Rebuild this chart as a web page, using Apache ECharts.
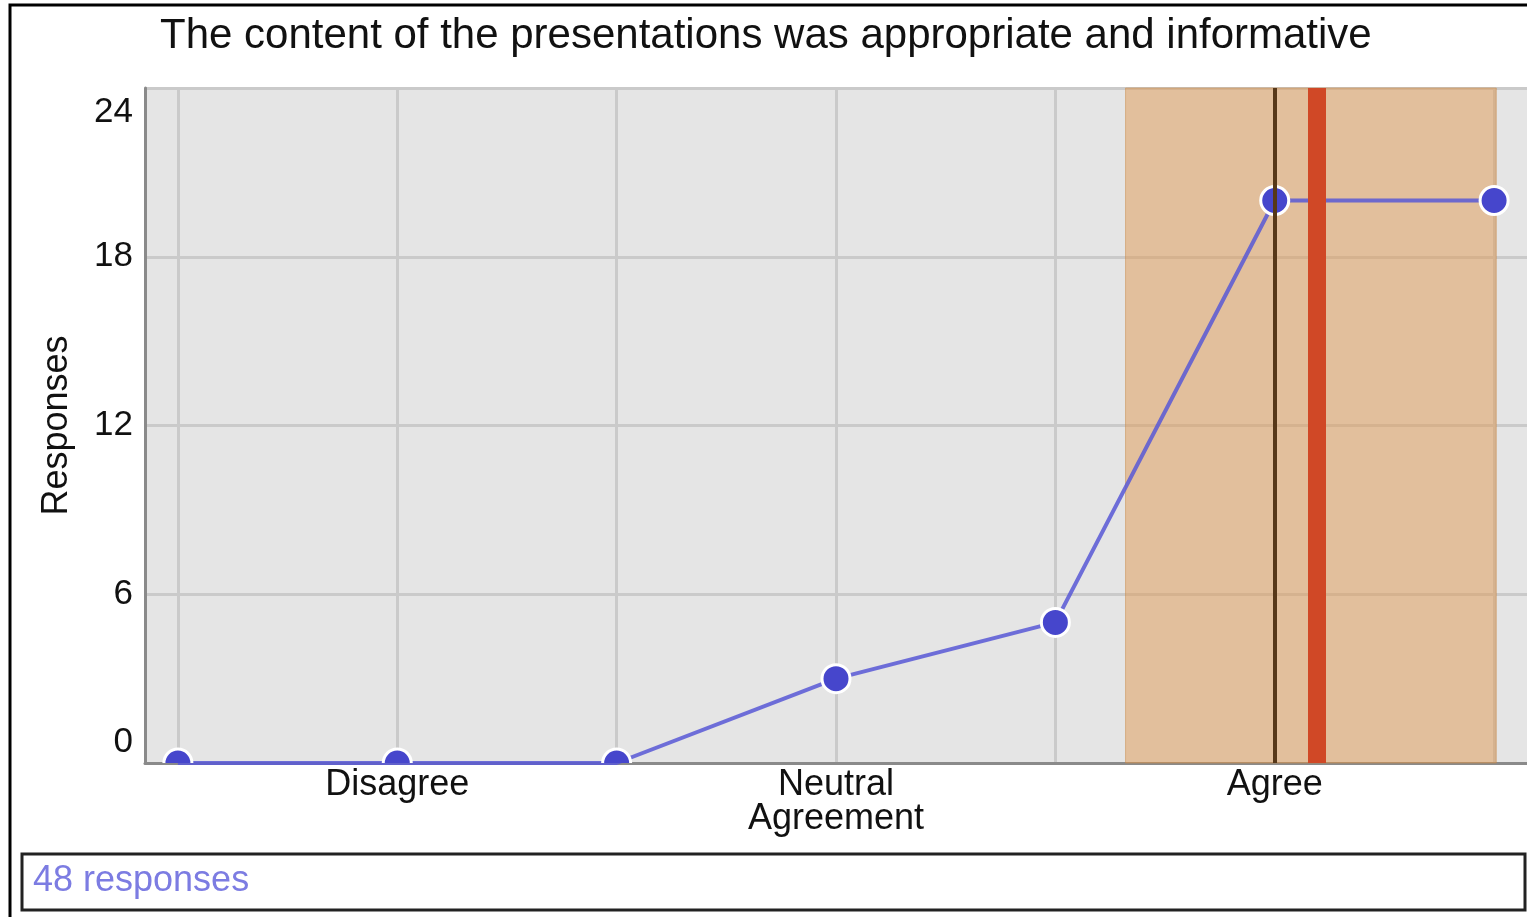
<!DOCTYPE html>
<html>
<head>
<meta charset="utf-8">
<script src="https://cdn.jsdelivr.net/npm/echarts@6/dist/echarts.min.js"></script>
<style>
  html, body { margin: 0; padding: 0; background: #fff; }
  #chart { width: 1527px; height: 917px; }
</style>
</head>
<body>
<div id="chart"></div>
<script>
// answer scale positions 1..7, only every other one is named
const categories = ["", "Disagree", "", "Neutral\nAgreement", "", "Agree", ""];
const responses = [0, 0, 0, 3, 5, 20, 20];
const yTicks = [0, 6, 12, 18, 24];
// summary markers
const median = 6;
const mean = 6.19;
const spread = [5.32, 7.01];
const totalText = "48 responses";

const positions = categories.map((c, i) => i + 1);
const points = responses.map((v, i) => [positions[i], v]);

const font = "Liberation Sans";
const chart = echarts.init(document.getElementById("chart"));

chart.setOption({
  animation: false,
  textStyle: { fontFamily: font },
  title: {
    text: "The content of the presentations was appropriate and informative",
    left: 155,
    top: 10,
    textStyle: { fontSize: 42, fontWeight: "normal", color: "#111", fontFamily: font }
  },
  grid: { left: 145, right: 0, top: 88, bottom: 154, backgroundColor: "#e5e5e5", show: true, borderWidth: 0 },
  xAxis: {
    type: "value",
    min: 0.85,
    max: 7.15,
    axisLine: { show: true, lineStyle: { color: "#8a8a8a", width: 3 } },
    axisTick: { show: false, customValues: positions },
    splitLine: { show: true, lineStyle: { color: "#cacaca", width: 3 } },
    axisLabel: {
      customValues: positions,
      margin: 5,
      fontSize: 36,
      lineHeight: 34,
      color: "#111",
      formatter: v => categories[Math.round(v) - 1] || ""
    }
  },
  yAxis: {
    type: "value",
    min: 0,
    max: 24,
    interval: 6,
    name: "Responses",
    nameLocation: "middle",
    nameGap: 70,
    nameTextStyle: { fontSize: 36, color: "#111", fontFamily: font },
    axisLine: { show: true, lineStyle: { color: "#8a8a8a", width: 3 } },
    axisTick: { show: false },
    splitLine: { show: true, lineStyle: { color: "#cacaca", width: 3 } },
    axisLabel: {
      fontSize: 35,
      color: "#111",
      margin: 12,
      verticalAlignMinLabel: "bottom",
      verticalAlignMaxLabel: "top",
      formatter: function (v) {
        if (yTicks.indexOf(v) < 0) return "";
        if (v === yTicks[yTicks.length - 1]) return "{hi|" + v + "}";
        if (v === yTicks[0]) return "{lo|" + v + "}";
        return String(v);
      },
      rich: {
        hi: { fontSize: 35, color: "#111", padding: [7, 0, 0, 0] },
        lo: { fontSize: 35, color: "#111", padding: [0, 0, 3, 0] }
      }
    }
  },
  series: [
    {
      // band, median and mean behind the data
      type: "line",
      data: [],
      z: 1,
      markArea: {
        silent: true,
        itemStyle: { color: "rgba(223,153,83,0.5)", borderColor: "rgba(200,135,70,0.5)", borderWidth: 1 },
        data: [[{ xAxis: spread[0] }, { xAxis: spread[1] }]]
      },
      markLine: {
        silent: true,
        symbol: "none",
        label: { show: false },
        data: [
          { xAxis: median, lineStyle: { color: "#573819", width: 4, type: "solid" } },
          { xAxis: mean, lineStyle: { color: "#d04826", width: 18, type: "solid" } }
        ]
      }
    },
    {
      type: "line",
      data: points,
      z: 2,
      showSymbol: false,
      clip: true,
      lineStyle: { color: "rgba(88,88,214,0.85)", width: 4 }
    },
    {
      // markers clipped by the plot like the original
      type: "custom",
      data: points,
      z: 3,
      clip: true,
      renderItem: function (params, api) {
        const p = api.coord([api.value(0), api.value(1)]);
        return {
          type: "circle",
          shape: { cx: p[0], cy: p[1], r: 14 },
          style: { fill: "#4646cc", stroke: "#fff", lineWidth: 3 }
        };
      }
    }
  ],
  graphic: [
    {
      type: "rect",
      shape: { x: 10, y: 5, width: 1700, height: 1100 },
      style: { fill: "none", stroke: "#000", lineWidth: 3 },
      silent: true
    },
    {
      type: "rect",
      shape: { x: 22, y: 854, width: 1503, height: 56 },
      style: { fill: "#fff", stroke: "#222", lineWidth: 3 },
      silent: true
    },
    {
      type: "text",
      left: 33,
      top: 863,
      style: { text: totalText, fontSize: 36, fill: "#7c7ce2", fontFamily: font }
    }
  ]
});
</script>
</body>
</html>
